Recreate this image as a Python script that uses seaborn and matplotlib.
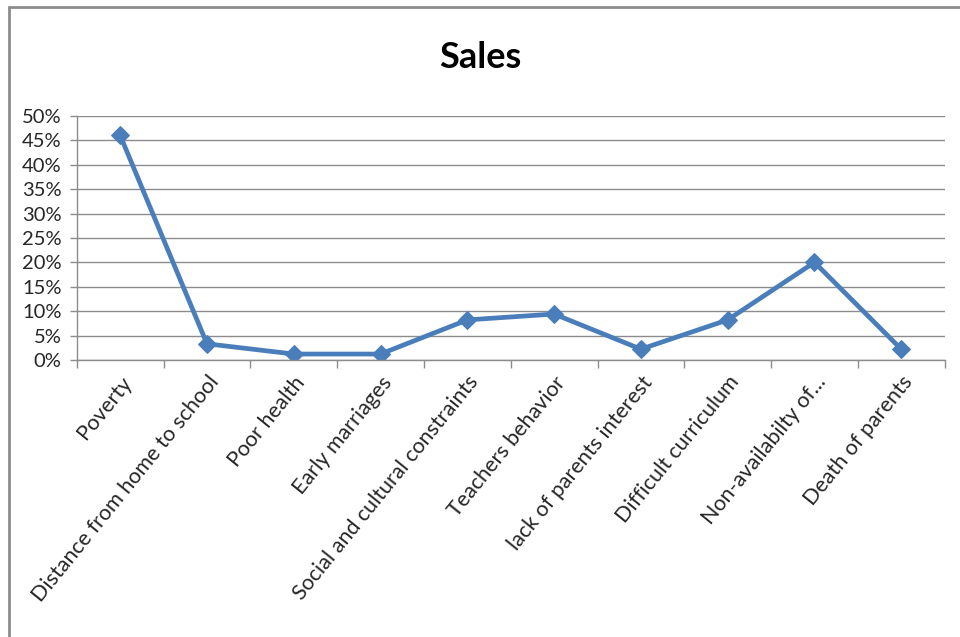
import matplotlib
matplotlib.use("Agg")
import matplotlib.pyplot as plt
import seaborn as sns
import pandas as pd
from matplotlib.lines import Line2D
from matplotlib.ticker import FuncFormatter, MultipleLocator, FixedLocator

categories = ["Poverty", "Distance from home to school", "Poor health", "Early marriages",
              "Social and cultural constraints", "Teachers behavior", "lack of parents interest",
              "Difficult curriculum", "Non-availabilty of...", "Death of parents"]
values = [0.46, 0.033, 0.012, 0.012, 0.082, 0.094, 0.022, 0.082, 0.20, 0.022]
title = "Sales"

sns.set_theme(style="white")
plt.rcParams['font.family'] = ['Lato', 'DejaVu Sans']

df = pd.DataFrame({"cat": categories, "val": values, "pos": range(len(categories))})

fig = plt.figure(figsize=(9.6, 6.37), dpi=100)
ax = fig.add_axes([0.080, 0.435, 0.904, 0.383])

sns.lineplot(data=df, x="pos", y="val", ax=ax, color="#4A7EBB", linewidth=3.4,
             marker="D", markersize=9.5, markeredgecolor="#4A7EBB", sort=False)

ax.set_xlim(-0.5, len(categories) - 0.5)
ax.set_ylim(0, 0.5)
ax.yaxis.set_major_locator(MultipleLocator(0.05))
ax.yaxis.set_major_formatter(FuncFormatter(lambda v, p: f"{int(round(v*100))}%"))
ax.grid(axis="y", color="#8c8c8c", linewidth=1.0)
ax.set_axisbelow(True)

ax.set_xticks(range(len(categories)))
ax.set_xticklabels(categories, rotation=51, ha="right", rotation_mode="anchor", fontsize=15.5)
ax.xaxis.set_minor_locator(FixedLocator([i - 0.5 for i in range(len(categories) + 1)]))
ax.tick_params(axis="x", which="major", length=0, pad=9)
ax.tick_params(axis="x", which="minor", length=6, color="#8c8c8c", width=1, bottom=True)
ax.tick_params(axis="y", which="major", length=5, color="#8c8c8c", width=1, left=True, labelsize=14.5, pad=6)

for s in ["top", "right"]:
    ax.spines[s].set_visible(False)
for s in ["left", "bottom"]:
    ax.spines[s].set_color("#8c8c8c")
    ax.spines[s].set_linewidth(1.0)

ax.set_xlabel("")
ax.set_ylabel("")

fig.text(0.5, 0.91, title, ha="center", va="center", fontsize=26, fontweight="bold", color="black")

# outer chart border (left and top visible)
fig.add_artist(Line2D([0.009, 0.009], [0.0, 0.989], transform=fig.transFigure, color="#8c8c8c", linewidth=2))
fig.add_artist(Line2D([0.009, 1.0], [0.989, 0.989], transform=fig.transFigure, color="#8c8c8c", linewidth=2))

fig.savefig("out.png", dpi=100)
